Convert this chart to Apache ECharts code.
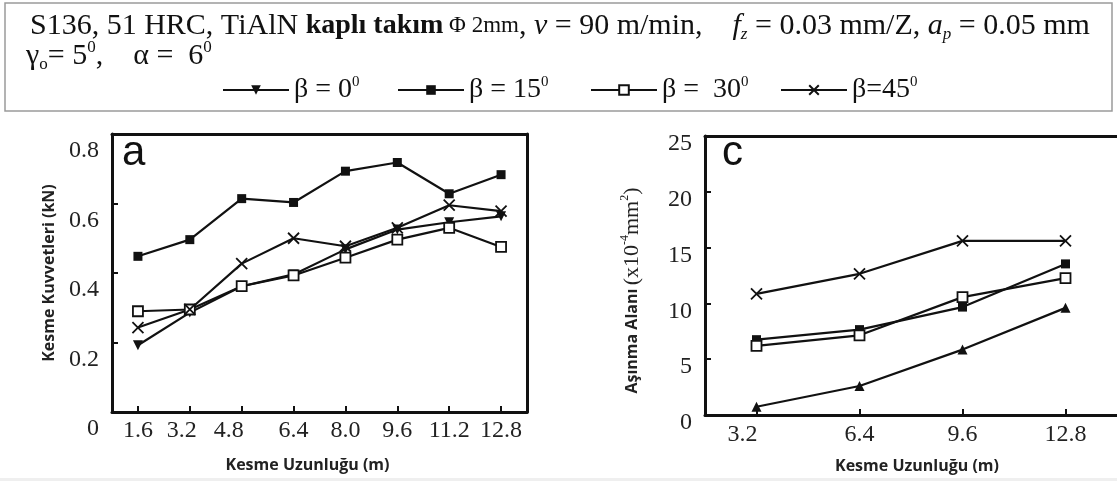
<!DOCTYPE html>
<html>
<head>
<meta charset="utf-8">
<script src="https://cdn.jsdelivr.net/npm/echarts@6/dist/echarts.min.js"></script>
<style>
html,body{margin:0;padding:0;background:#fff;}
#chart{width:1117px;height:481px;}
</style>
</head>
<body>
<div id="chart"></div>
<script>
// ---- data ----
const lengthsA = ['1.6', '3.2', '4.8', '6.4', '8.0', '9.6', '11.2', '12.8'];
const forceB0  = [0.192, 0.286, 0.362, 0.396, 0.468, 0.525, 0.546, 0.563];
const forceB15 = [0.448, 0.496, 0.614, 0.603, 0.693, 0.718, 0.628, 0.683];
const forceB30 = [0.290, 0.295, 0.362, 0.393, 0.444, 0.496, 0.530, 0.475];
const forceB45 = [0.243, 0.295, 0.427, 0.500, 0.477, 0.530, 0.595, 0.578];

const lengthsC = ['3.2', '6.4', '9.6', '12.8'];
const wearB0  = [0.74, 2.6, 5.86, 9.6];
const wearB15 = [6.75, 7.65, 9.67, 13.54];
const wearB30 = [6.19, 7.14, 10.56, 12.26];
const wearB45 = [10.86, 12.65, 15.6, 15.6];

const seriesNames = ['β = 0', 'β = 15', 'β =  30', 'β=45'];
const forceTicks = {min: 0, max: 0.8, interval: 0.2};
const wearTicks = {min: 0, max: 25, interval: 5};

// ---- chart ----
const SERIF = '"Liberation Serif", "Times New Roman", serif';
const SANS = '"Open Sans", Lato, "Liberation Sans", sans-serif';
const INK = '#111';

const chart = echarts.init(document.getElementById('chart'), null, {renderer: 'canvas'});

const xMark = 'path://M0,0L10,10M10,0L0,10';
const styles = [
  {symbol: 'triangle', symbolSize: 10, itemStyle: {color: INK}},
  {symbol: 'rect', symbolSize: 9, itemStyle: {color: INK}},
  {symbol: 'rect', symbolSize: 10, itemStyle: {color: '#fff', borderColor: INK, borderWidth: 1.8}},
  {symbol: xMark, symbolSize: 11, itemStyle: {color: 'none', borderColor: INK, borderWidth: 1.8}}
];

function mk(name, data, xi, yi, st, rot) {
  return Object.assign({
    type: 'line', name: name, data: data, xAxisIndex: xi, yAxisIndex: yi,
    showAllSymbol: true, animation: false,
    symbolRotate: rot || 0,
    lineStyle: {color: INK, width: 2.2}
  }, JSON.parse(JSON.stringify(st)));
}

const series = [
  mk(seriesNames[0], forceB0, 0, 0, styles[0], 180),
  mk(seriesNames[1], forceB15, 0, 0, styles[1]),
  mk(seriesNames[2], forceB30, 0, 0, styles[2]),
  mk(seriesNames[3], forceB45, 0, 0, styles[3]),
  mk(seriesNames[0], wearB0, 2, 2, styles[0], 0),
  mk(seriesNames[1], wearB15, 2, 2, styles[1]),
  mk(seriesNames[2], wearB30, 2, 2, styles[2]),
  mk(seriesNames[3], wearB45, 2, 2, styles[3])
];

const tickLbl = {fontFamily: SERIF, fontSize: 24, color: '#222'};
const axisNameStyle = {fontFamily: SANS, fontWeight: 'bold', fontSize: 16, color: '#222'};
// the reference prints a few x labels slightly left of their ticks
const xLblRich = {
  d: {fontFamily: SERIF, fontSize: 24, color: '#222'},
  l8: {fontFamily: SERIF, fontSize: 24, color: '#222', padding: [0, 16, 0, 0]},
  l13: {fontFamily: SERIF, fontSize: 24, color: '#222', padding: [0, 26, 0, 0]},
  l14: {fontFamily: SERIF, fontSize: 24, color: '#222', padding: [0, 28, 0, 0]}
};
const shiftA = {'3.2': 'l8', '4.8': 'l13'};
const shiftC = {'3.2': 'l14'};

const legendLeft = [222, 397, 590, 780];
const legends = seriesNames.map(function (n, i) {
  return {
    data: [n], left: legendLeft[i], top: 75, itemWidth: 66, itemHeight: 12,
    itemGap: 0, padding: 0, selectedMode: false,
    formatter: function (name) { return '{t|' + name + '}{s|0}'; },
    textStyle: {
      rich: {
        t: {fontFamily: SERIF, fontSize: 28, color: INK, lineHeight: 30},
        s: {fontFamily: SERIF, fontSize: 15, color: INK, lineHeight: 14, verticalAlign: 'top'}
      }
    }
  };
});

const headerRich = {
  n: {fontFamily: SERIF, fontSize: 30, fontWeight: 'normal', color: INK, lineHeight: 34},
  b: {fontFamily: SERIF, fontSize: 28, fontWeight: 'bold', color: INK, lineHeight: 34},
  i: {fontFamily: SERIF, fontSize: 30, fontWeight: 'normal', fontStyle: 'italic', color: INK, lineHeight: 34},
  m: {fontFamily: SERIF, fontSize: 23, fontWeight: 'normal', color: INK, lineHeight: 34},
  sub: {fontFamily: SERIF, fontSize: 17, fontWeight: 'normal', fontStyle: 'italic', color: INK, lineHeight: 16, verticalAlign: 'bottom'},
  subn: {fontFamily: SERIF, fontSize: 17, fontWeight: 'normal', color: INK, lineHeight: 16, verticalAlign: 'bottom'},
  sup: {fontFamily: SERIF, fontSize: 17, fontWeight: 'normal', color: INK, lineHeight: 16, verticalAlign: 'top'}
};

const option = {
  backgroundColor: '#fff',
  animation: false,
  graphic: [
    {type: 'rect', shape: {x: 5, y: 3, width: 1107, height: 108},
     style: {fill: 'none', stroke: '#9a9a9a', lineWidth: 1.5}, silent: true},
    {type: 'rect', shape: {x: 0, y: 478, width: 1117, height: 3},
     style: {fill: '#efefef'}, silent: true, z: -1}
  ],
  title: [
    {text: '{n|S136, 51 HRC, TiAlN }{b|kaplı takım}{m| Φ 2mm}{n|, }{i|v}{n| = 90 m/min,    }{i|f}{sub|z}{n| = 0.03 mm/Z, }{i|a}{sub|p}{n| = 0.05 mm}',
     left: 30, top: 9, padding: 0, textStyle: {fontWeight: 'normal', rich: headerRich}},
    {text: '{n|γ}{subn|o}{n|= 5}{sup|0}{n|,    α =  6}{sup|0}',
     left: 26, top: 39, padding: 0, textStyle: {fontWeight: 'normal', rich: headerRich}},
    {text: 'a', left: 122, top: 132, padding: 0,
     textStyle: {fontFamily: '"Liberation Sans", Arial, sans-serif', fontSize: 42, fontWeight: 'normal', color: INK}},
    {text: 'c', left: 722, top: 132, padding: 0,
     textStyle: {fontFamily: '"Liberation Sans", Arial, sans-serif', fontSize: 42, fontWeight: 'normal', color: INK}}
  ],
  legend: legends,
  grid: [
    {left: 112, top: 134, width: 415, height: 278},
    {left: 705, top: 136, width: 418, height: 279}
  ],
  xAxis: [
    {type: 'category', gridIndex: 0, data: lengthsA, position: 'bottom', boundaryGap: true,
     name: 'Kesme Uzunluğu (m)', nameLocation: 'middle', nameGap: 45,
     nameTextStyle: Object.assign({padding: [0, 24, 0, 0]}, axisNameStyle),
     axisLine: {onZero: false, lineStyle: {color: INK, width: 3}},
     axisTick: {show: true, inside: true, alignWithLabel: true, length: 6, lineStyle: {color: INK, width: 2}},
     axisLabel: {margin: 7, interval: 0, rich: xLblRich,
       formatter: function (v) { return '{' + (shiftA[v] || 'd') + '|' + v + '}'; }},
     splitLine: {show: false}},
    {type: 'category', gridIndex: 0, data: lengthsA, position: 'top', boundaryGap: true,
     axisLine: {onZero: false, lineStyle: {color: INK, width: 3}},
     axisTick: {show: false}, axisLabel: {show: false}, splitLine: {show: false}},
    {type: 'category', gridIndex: 1, data: lengthsC, position: 'bottom', boundaryGap: true,
     name: 'Kesme Uzunluğu (m)', nameLocation: 'middle', nameGap: 43,
     nameTextStyle: Object.assign({padding: [0, 0, 0, 12]}, axisNameStyle),
     axisLine: {onZero: false, lineStyle: {color: INK, width: 3}},
     axisTick: {show: true, inside: true, alignWithLabel: true, length: 6, lineStyle: {color: INK, width: 2}},
     axisLabel: {margin: 8, interval: 0, rich: xLblRich,
       formatter: function (v) { return '{' + (shiftC[v] || 'd') + '|' + v + '}'; }},
     splitLine: {show: false}},
    {type: 'category', gridIndex: 1, data: lengthsC, position: 'top', boundaryGap: true,
     axisLine: {onZero: false, lineStyle: {color: INK, width: 3}},
     axisTick: {show: false}, axisLabel: {show: false}, splitLine: {show: false}}
  ],
  yAxis: [
    {type: 'value', gridIndex: 0, position: 'left', min: forceTicks.min, max: forceTicks.max, interval: forceTicks.interval,
     name: 'Kesme Kuvvetleri (kN)', nameLocation: 'middle', nameGap: 55,
     nameTextStyle: axisNameStyle,
     axisLine: {show: true, onZero: false, lineStyle: {color: INK, width: 3}},
     axisTick: {show: true, inside: true, length: 6, lineStyle: {color: INK, width: 2}},
     axisLabel: Object.assign({margin: 13, verticalAlign: 'top', lineHeight: 34,
       formatter: function (v) { return v === 0 ? '0' : v.toFixed(1); }}, tickLbl),
     splitLine: {show: false}},
    {type: 'value', gridIndex: 0, position: 'right', min: forceTicks.min, max: forceTicks.max, interval: forceTicks.interval,
     axisLine: {show: true, onZero: false, lineStyle: {color: INK, width: 3}},
     axisTick: {show: false}, axisLabel: {show: false}, splitLine: {show: false}},
    {type: 'value', gridIndex: 1, position: 'left', min: wearTicks.min, max: wearTicks.max, interval: wearTicks.interval,
     name: '{b|Aşınma Alanı} {n|(x10}{s|-4}{n|mm}{s|2}{n|)}', nameLocation: 'middle', nameGap: 60,
     nameTextStyle: {padding: [0, 30, 0, 0], rich: {
       b: {fontFamily: SANS, fontWeight: 'bold', fontSize: 16, color: '#222', lineHeight: 26},
       n: {fontFamily: SERIF, fontSize: 22, color: '#222', lineHeight: 26},
       s: {fontFamily: SERIF, fontSize: 12, color: '#222', lineHeight: 12, verticalAlign: 'top'}
     }},
     axisLine: {show: true, onZero: false, lineStyle: {color: INK, width: 3}},
     axisTick: {show: true, inside: true, length: 6, lineStyle: {color: INK, width: 2}},
     axisLabel: Object.assign({margin: 13, verticalAlign: 'top', lineHeight: 16}, tickLbl),
     splitLine: {show: false}}
  ],
  series: series
};

chart.setOption(option);
</script>
</body>
</html>
